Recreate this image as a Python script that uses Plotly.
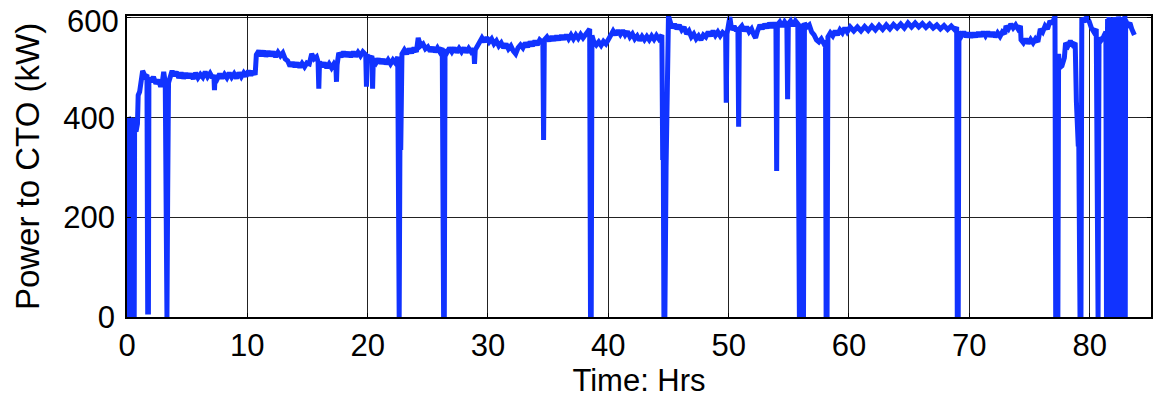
import plotly.graph_objects as go

# Time (hours) and power to CTO (kW)
time_hrs = [
    0.00, 0.05, 0.10, 0.14, 0.30, 0.34, 0.37, 0.42, 0.50, 0.54, 0.60, 0.63, 0.75, 0.87, 0.93, 1.05, 1.15, 1.30,
    1.50, 1.66, 1.72, 1.78, 1.82, 2.00, 2.20, 2.40, 2.60, 2.80, 2.95, 3.05, 3.18, 3.25, 3.32, 3.38, 3.45, 3.60,
    3.75, 3.90, 4.10, 4.30, 4.50, 4.70, 4.90, 5.10, 5.30, 5.50, 5.70, 5.90, 6.10, 6.30, 6.50, 6.70, 6.90, 7.10,
    7.22, 7.27, 7.32, 7.50, 7.70, 7.90, 8.10, 8.30, 8.50, 8.70, 8.90, 9.10, 9.30, 9.50, 9.70, 9.90, 10.10, 10.30,
    10.50, 10.65, 10.75, 10.95, 11.15, 11.35, 11.55, 11.75, 11.95, 12.15, 12.35, 12.55, 12.75, 12.95, 13.15, 13.35,
    13.55, 13.75, 13.95, 14.15, 14.35, 14.55, 14.75, 14.95, 15.15, 15.35, 15.55, 15.75, 15.88, 15.94, 16.00, 16.20,
    16.40, 16.60, 16.80, 17.00, 17.20, 17.36, 17.41, 17.46, 17.60, 17.80, 18.00, 18.20, 18.40, 18.60, 18.80, 19.00,
    19.20, 19.40, 19.60, 19.84, 19.90, 19.96, 20.15, 20.35, 20.41, 20.47, 20.70, 20.90, 21.10, 21.30, 21.50, 21.70,
    21.90, 22.10, 22.30, 22.50, 22.56, 22.62, 22.68, 22.75, 22.85, 23.05, 23.25, 23.45, 23.65, 23.85, 24.05, 24.20,
    24.40, 24.60, 24.80, 25.00, 25.20, 25.40, 25.60, 25.80, 26.00, 26.20, 26.31, 26.37, 26.43, 26.60, 26.80, 27.00,
    27.20, 27.40, 27.60, 27.80, 28.00, 28.20, 28.40, 28.60, 28.82, 28.88, 28.94, 29.10, 29.30, 29.50, 29.70, 29.90,
    30.10, 30.30, 30.50, 30.70, 30.90, 31.10, 31.30, 31.50, 31.70, 31.90, 32.10, 32.30, 32.50, 32.70, 32.90, 33.10,
    33.30, 33.50, 33.70, 33.90, 34.10, 34.30, 34.56, 34.62, 34.68, 34.90, 35.10, 35.30, 35.50, 35.70, 35.90, 36.10,
    36.30, 36.50, 36.70, 36.90, 37.10, 37.30, 37.50, 37.70, 37.90, 38.10, 38.30, 38.45, 38.52, 38.58, 38.64, 38.80,
    39.00, 39.20, 39.40, 39.60, 39.80, 40.00, 40.20, 40.40, 40.60, 40.80, 41.00, 41.20, 41.40, 41.60, 41.80, 42.00,
    42.20, 42.40, 42.60, 42.80, 43.00, 43.20, 43.40, 43.60, 43.80, 44.00, 44.20, 44.45, 44.52, 44.57, 44.62, 44.70,
    44.80, 44.90, 45.00, 45.15, 45.30, 45.50, 45.70, 45.90, 46.10, 46.30, 46.50, 46.70, 46.90, 47.10, 47.30, 47.50,
    47.70, 47.90, 48.10, 48.30, 48.50, 48.70, 48.90, 49.10, 49.30, 49.50, 49.75, 49.80, 49.86, 50.10, 50.25, 50.45,
    50.65, 50.77, 50.83, 50.89, 51.10, 51.30, 51.50, 51.70, 51.90, 52.10, 52.24, 52.40, 52.60, 52.80, 53.00, 53.20,
    53.40, 53.60, 53.80, 53.93, 53.99, 54.05, 54.25, 54.45, 54.65, 54.84, 54.90, 54.96, 55.15, 55.35, 55.55, 55.75,
    55.80, 55.88, 55.95, 56.05, 56.10, 56.15, 56.22, 56.30, 56.50, 56.70, 56.90, 57.10, 57.30, 57.50, 57.70, 57.90,
    58.05, 58.10, 58.18, 58.25, 58.45, 58.65, 58.85, 59.05, 59.25, 59.45, 59.65, 59.85, 60.10, 60.40, 60.70, 61.00,
    61.30, 61.60, 61.90, 62.20, 62.50, 62.80, 63.10, 63.40, 63.70, 64.00, 64.30, 64.60, 64.90, 65.20, 65.50, 65.80,
    66.10, 66.40, 66.70, 67.00, 67.30, 67.60, 67.90, 68.20, 68.50, 68.80, 68.95, 69.00, 69.08, 69.14, 69.35, 69.55,
    69.75, 69.95, 70.15, 70.35, 70.55, 70.75, 70.95, 71.15, 71.35, 71.55, 71.75, 71.95, 72.15, 72.35, 72.55, 72.75,
    72.95, 73.05, 73.25, 73.45, 73.65, 73.85, 74.05, 74.25, 74.30, 74.50, 74.70, 74.90, 75.10, 75.30, 75.50, 75.70,
    75.90, 76.10, 76.30, 76.50, 76.70, 76.90, 77.12, 77.18, 77.26, 77.30, 77.36, 77.42, 77.50, 77.70, 77.90, 78.00,
    78.20, 78.40, 78.60, 78.80, 78.86, 78.90, 79.05, 79.10, 79.20, 79.28, 79.35, 79.55, 79.75, 79.95, 80.15, 80.35,
    80.55, 80.62, 80.70, 80.78, 80.95, 81.15, 81.35,
    81.40, 81.43, 81.46, 81.49, 81.52, 81.55, 81.58, 81.61, 81.64, 81.67, 81.70, 81.73, 81.76, 81.79,
    81.82, 81.85, 81.88, 81.91, 81.94, 81.97, 82.00, 82.03, 82.06, 82.09, 82.12, 82.15, 82.18, 82.21,
    82.24, 82.27, 82.30, 82.33, 82.36, 82.39, 82.42, 82.45, 82.48, 82.51, 82.54, 82.57, 82.60, 82.63,
    82.66, 82.69, 82.72, 82.75, 82.78, 82.81, 82.84, 82.87, 82.90, 82.93, 82.96, 82.99, 83.02,
    83.05, 83.20, 83.35, 83.50, 83.65, 83.72,
]
power_kw = [
    320, 0, 230, 400, 395, 230, 0, 380, 400, 0, 0, 380, 372, 388, 445, 452, 480, 494,
    483, 486, 10, 10, 480, 472, 482, 468, 476, 462, 474, 492, 470, 0, 0, 250, 470, 482,
    494, 484, 492, 480, 490, 479, 489, 480, 488, 478, 490, 480, 487, 481, 492, 482, 489, 480,
    486, 455, 484, 478, 488, 479, 487, 480, 490, 481, 488, 479, 490, 482, 490, 483, 494, 485,
    493, 486, 526, 534, 524, 534, 523, 533, 524, 532, 522, 531, 524, 530, 518, 514,
    503, 511, 502, 510, 501, 509, 502, 510, 508, 528, 518, 522, 512, 458, 512, 502,
    510, 500, 508, 500, 508, 502, 472, 506, 530, 522, 532, 523, 531, 522, 532, 523,
    531, 524, 532, 526, 462, 526, 516, 524, 458, 518, 510, 518, 509, 517, 508, 516,
    508, 516, 510, 522, 0, 0, 340, 340, 528, 536, 528, 538, 530, 540, 532, 560,
    544, 548, 538, 542, 533, 541, 532, 540, 532, 540, 0, 0, 536, 531, 540, 532,
    540, 531, 539, 532, 540, 531, 539, 532, 538, 508, 536, 544, 550, 560, 552, 561,
    552, 558, 548, 554, 544, 550, 540, 548, 538, 544, 534, 528, 540, 546, 540, 550,
    542, 552, 544, 554, 546, 556, 550, 355, 556, 562, 554, 563, 555, 564, 556, 565,
    557, 566, 558, 566, 558, 566, 559, 567, 560, 566, 570, 578, 0, 0, 565, 552,
    546, 552, 545, 553, 548, 558, 566, 574, 566, 575, 567, 575, 566, 573, 562, 568,
    558, 564, 555, 563, 556, 563, 556, 564, 557, 565, 558, 566, 320, 320, 0, 0,
    300, 560, 604, 592, 580, 588, 578, 586, 576, 582, 568, 574, 562, 568, 558, 564,
    556, 566, 562, 572, 564, 574, 565, 572, 564, 571, 566, 430, 568, 602, 576, 584,
    574, 580, 382, 578, 584, 574, 582, 572, 578, 566, 560, 574, 586, 578, 588, 580,
    590, 581, 590, 584, 293, 586, 592, 583, 592, 585, 437, 588, 594, 584, 594, 588,
    0, 0, 588, 580, 233, 0, 0, 590, 582, 586, 572, 566, 556, 552, 558, 549,
    554, 0, 0, 562, 570, 564, 574, 566, 576, 570, 580, 572, 582, 574, 582, 574,
    583, 575, 584, 576, 585, 577, 586, 578, 587, 580, 588, 580, 590, 582, 590, 582,
    589, 581, 588, 580, 586, 578, 585, 577, 584, 576, 582, 0, 0, 572, 564, 572,
    562, 570, 561, 570, 562, 571, 563, 572, 564, 572, 563, 571, 562, 570, 563, 572,
    568, 584, 578, 588, 580, 586, 578, 584, 556, 550, 558, 549, 557, 550, 558, 552,
    578, 572, 584, 578, 594, 588, 604, 0, 0, 197, 0, 528, 500, 504, 520, 550,
    544, 554, 546, 550, 432, 432, 347, 347, 0, 0, 600, 592, 602, 594, 580, 572,
    578, 0, 0, 560, 555, 562, 572,
    0, 592, 0, 598, 0, 585, 0, 602, 0, 590, 0, 596, 0, 588,
    0, 600, 0, 594, 0, 598, 0, 590, 0, 602, 0, 595, 0, 600,
    0, 586, 0, 597, 0, 603, 0, 591, 0, 599, 0, 588, 0, 600,
    0, 594, 0, 602, 0, 590, 0, 598, 0, 604, 0, 596, 0,
    592, 586, 590, 578, 572, 566,
]
assert len(time_hrs) == len(power_kw), (len(time_hrs), len(power_kw))

x_ticks = [0, 10, 20, 30, 40, 50, 60, 70, 80]
y_ticks = [0, 200, 400, 600]

FONT = "Liberation Sans, Arial, sans-serif"

fig = go.Figure()
fig.add_trace(go.Scatter(
    x=time_hrs, y=power_kw, mode="lines",
    line=dict(color="#1133ff", width=5),
    showlegend=False, hoverinfo="skip",
))

fig.update_layout(
    width=1153, height=400,
    margin=dict(l=127, r=2, t=16, b=83),
    paper_bgcolor="white", plot_bgcolor="white",
    font=dict(family=FONT, color="black"),
)
fig.update_xaxes(
    range=[0, 85.1], tickvals=x_ticks, ticktext=[str(v) for v in x_ticks],
    showgrid=True, gridcolor="#222222", gridwidth=1,
    showline=True, linecolor="black", linewidth=1.5, mirror="ticks",
    ticks="inside", ticklen=4, tickcolor="black",
    tickfont=dict(size=31, family=FONT, color="black"),
    title=dict(text="Time: Hrs", font=dict(size=31, family=FONT, color="black"), standoff=0),
    zeroline=False, automargin=False,
)
# top tick label is drawn as an annotation so it can sit slightly below its gridline, as in the reference
y_labels = [str(v) if v != y_ticks[-1] else "" for v in y_ticks]
fig.update_yaxes(
    range=[0, 604], tickvals=y_ticks, ticktext=y_labels,
    showgrid=True, gridcolor="#222222", gridwidth=1,
    showline=True, linecolor="black", linewidth=1.5, mirror="ticks",
    ticks="inside", ticklen=4, tickcolor="black",
    tickfont=dict(size=31, family=FONT, color="black"),
    ticklabelstandoff=4,
    title=dict(text="Power to CTO (kW)", font=dict(size=33, family=FONT, color="black"), standoff=14),
    zeroline=False, automargin=False,
)
fig.add_annotation(
    text=str(y_ticks[-1]), xref="paper", x=0, xanchor="right", xshift=-6,
    yref="y", y=y_ticks[-1], yanchor="middle", yshift=-4,
    showarrow=False, font=dict(size=31, family=FONT, color="black"),
)

# remove the page's default body margin so the figure sits at the window's top-left corner
fig.write_html(
    "out.html",
    config={"displayModeBar": False},
    post_script="document.body.style.margin='0';",
)
